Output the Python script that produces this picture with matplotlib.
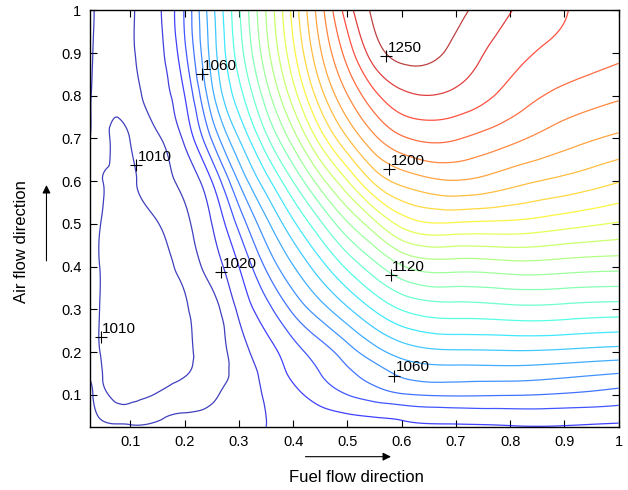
import numpy as np
import matplotlib
matplotlib.use('Agg')
from matplotlib import pyplot as plt
import matplotlib.tri as mtri

plt.rcParams['font.family'] = ['Liberation Sans', 'DejaVu Sans']

# sample points of the temperature field
fuel_pos = [0.025, 0.04, 0.07, 0.1, 0.15, 0.2, 0.25, 0.3, 0.35, 0.4, 0.45, 0.5, 0.55, 0.6, 0.7, 0.8, 0.9, 1.0]
air_pos = [0.025, 0.05, 0.1, 0.15, 0.2, 0.3, 0.4, 0.5, 0.6, 0.7, 0.8, 0.9, 1.0]

temp_y0025 = [1011.8, 1011.2, 1010.6, 1010.5, 1011, 1012, 1014, 1017, 1020, 1022.5, 1024.5, 1026, 1027, 1028, 1029, 1029.5, 1029.5, 1028]
temp_y005 = [1011.2, 1010, 1009, 1008.8, 1009.4, 1010.6, 1012, 1015.5, 1020, 1024, 1027, 1029, 1030.5, 1032, 1034, 1035, 1035, 1034]
temp_y01 = [1010.8, 1009.3, 1011, 1011.5, 1009.7, 1008, 1009, 1014, 1021, 1027.5, 1034, 1040, 1045, 1049, 1051, 1050.5, 1049, 1046]
temp_y015 = [1009.6, 1009.5, 1012, 1013, 1012.5, 1010.5, 1008, 1013, 1023, 1032, 1040, 1048, 1055, 1062, 1065, 1065, 1063, 1060]
temp_y02 = [1008.5, 1009.6, 1013, 1014, 1013.5, 1011.5, 1007.5, 1015, 1025.8, 1036, 1045, 1055.5, 1066, 1074, 1078.5, 1079, 1078, 1076]
temp_y03 = [1008, 1009.6, 1013.5, 1014.5, 1014, 1011.3, 1007, 1022, 1036.3, 1052.1, 1065.5, 1078.5, 1091, 1100.5, 1105.5, 1107, 1106.5, 1105]
temp_y04 = [1008, 1009.6, 1013, 1014, 1012.5, 1008.5, 1014, 1030, 1051.4, 1069.5, 1086, 1102, 1116.5, 1129, 1134, 1135.5, 1134.5, 1133]
temp_y05 = [1008.5, 1009.5, 1012.5, 1013, 1010.2, 1008.8, 1020, 1042.9, 1067.1, 1087.9, 1108, 1128.6, 1147, 1163, 1168.8, 1167.5, 1163.5, 1159]
temp_y06 = [1008.5, 1009.3, 1011.5, 1011.2, 1008, 1012.5, 1030, 1061, 1086, 1110.3, 1135.5, 1159.5, 1182, 1193, 1199.5, 1193.6, 1187.3, 1180.5]
temp_y07 = [1010.2, 1007.5, 1011.5, 1009.7, 1009, 1022, 1050.9, 1080.2, 1107.5, 1135, 1164.4, 1189.5, 1208, 1218.5, 1220.7, 1212.7, 1204.2, 1198]
temp_y08 = [1010.8, 1007.5, 1007, 1007, 1015.3, 1030, 1066.9, 1095.8, 1124.8, 1155, 1185.7, 1209.6, 1227.5, 1237.5, 1237.5, 1226.4, 1217, 1211.5]
temp_y09 = [1011.5, 1008, 1005.5, 1008.5, 1017.2, 1037.9, 1074, 1105, 1136, 1167.5, 1198.8, 1224.3, 1245, 1253, 1247.2, 1234.1, 1226.7, 1222]
temp_y10 = [1012, 1008.5, 1006, 1009, 1018, 1041, 1076.7, 1108.8, 1140.4, 1173.3, 1205.7, 1235, 1252, 1256.5, 1252.6, 1240.5, 1230.5, 1226]

# labelled points on the contours
label_x = [0.572, 0.577, 0.58, 0.586, 0.231, 0.111, 0.267, 0.045]
label_y = [0.893, 0.628, 0.38, 0.145, 0.85, 0.638, 0.387, 0.235]
label_text = ['1250', '1200', '1120', '1060', '1060', '1010', '1020', '1010']

temp = np.array([temp_y0025, temp_y005, temp_y01, temp_y015, temp_y02, temp_y03, temp_y04,
                 temp_y05, temp_y06, temp_y07, temp_y08, temp_y09, temp_y10])
levels = np.arange(1010, 1260, 10)

# triangles of the sample grid, every cell cut along the same diagonal
nx, ny = len(fuel_pos), len(air_pos)
fx, fy = np.meshgrid(fuel_pos, air_pos)
cells = []
for j in range(ny - 1):
    for i in range(nx - 1):
        p = j * nx + i
        cells.append([p, p + 1, p + nx])
        cells.append([p + 1, p + nx + 1, p + nx])
tri = mtri.Triangulation(fx.ravel(), fy.ravel(), np.array(cells))

# smooth contour lines: cubic interpolator on a refined mesh
interp = mtri.CubicTriInterpolator(tri, temp.ravel(), kind='min_E')
refiner = mtri.UniformTriRefiner(tri)
tri_f, temp_f = refiner.refine_field(temp.ravel(), triinterpolator=interp, subdiv=4)

fig = plt.figure(figsize=(6.28, 4.9), dpi=100)
ax = fig.add_axes([0.143, 0.129, 0.842, 0.85])
ax.tricontour(tri_f, temp_f, levels=levels, cmap='jet', vmin=1000, vmax=1260,
              linewidths=0.9, alpha=0.75)

for lx, ly, lt in zip(label_x, label_y, label_text):
    ax.plot(lx, ly, marker='+', color='black', markersize=8, markeredgewidth=0.8)
    ax.annotate(lt, (lx, ly), xytext=(1, 1), textcoords='offset points',
                ha='left', va='bottom', fontsize=11)

ax.set_xlim(0.025, 1)
ax.set_ylim(0.025, 1)
ticks = [0.1, 0.2, 0.3, 0.4, 0.5, 0.6, 0.7, 0.8, 0.9, 1.0]
tick_labels = ['0.1', '0.2', '0.3', '0.4', '0.5', '0.6', '0.7', '0.8', '0.9', '1']
ax.set_xticks(ticks)
ax.set_xticklabels(tick_labels)
ax.set_yticks(ticks)
ax.set_yticklabels(tick_labels)
ax.tick_params(direction='in', top=True, right=True, length=5, width=0.8, labelsize=10.5, pad=6)
for s in ax.spines.values():
    s.set_linewidth(1.0)

# axis titles with the flow arrows
fig.text(0.567, 0.026, 'Fuel flow direction', ha='center', va='center', fontsize=12)
fig.text(0.035, 0.506, 'Air flow direction', ha='center', va='center', rotation=90, fontsize=12)
fig.add_artist(matplotlib.patches.FancyArrowPatch((0.482, 0.068), (0.627, 0.068), transform=fig.transFigure,
                                                  arrowstyle='-|>', mutation_scale=12, color='black', lw=0.8))
fig.add_artist(matplotlib.patches.FancyArrowPatch((0.074, 0.462), (0.074, 0.628), transform=fig.transFigure,
                                                  arrowstyle='-|>', mutation_scale=12, color='black', lw=0.8))

plt.savefig('out.png', dpi=100)
